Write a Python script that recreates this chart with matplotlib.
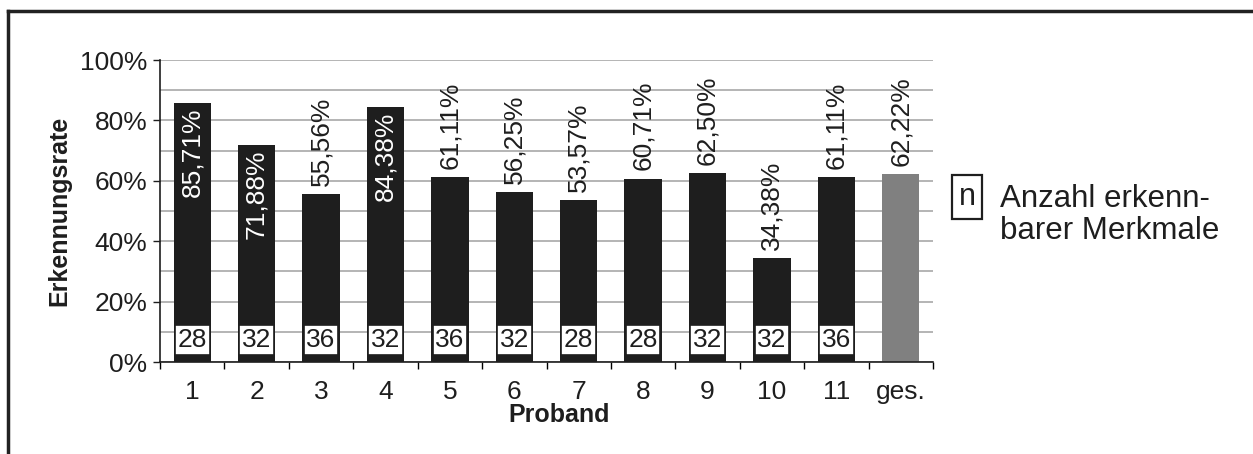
import matplotlib
matplotlib.use('Agg')
import matplotlib.pyplot as plt
from matplotlib.lines import Line2D
import numpy as np

plt.rcParams['font.family'] = ['Liberation Sans', 'DejaVu Sans']

probanden = ['1', '2', '3', '4', '5', '6', '7', '8', '9', '10', '11', 'ges.']
rate = [85.71, 71.88, 55.56, 84.38, 61.11, 56.25, 53.57, 60.71, 62.50, 34.38, 61.11, 62.22]
rate_labels = ['85,71%', '71,88%', '55,56%', '84,38%', '61,11%', '56,25%',
               '53,57%', '60,71%', '62,50%', '34,38%', '61,11%', '62,22%']
merkmale = [28, 32, 36, 32, 36, 32, 28, 28, 32, 32, 36]
label_inside = [True, True, False, True, False, False, False, False, False, False, False, False]

bar_colors = ['#1e1e1e'] * 11 + ['#808080']

fig = plt.figure(figsize=(12.53, 4.54), dpi=100)
ax = fig.add_axes([160 / 1253, 1 - 362 / 454, 773 / 1253, 302 / 454])

x = np.arange(len(probanden))
ax.bar(x, rate, width=0.58, color=bar_colors, zorder=2)

for i, (v, lab) in enumerate(zip(rate, rate_labels)):
    if label_inside[i]:
        ax.text(x[i], v - 1.6, lab, rotation=90, ha='center', va='top',
                color='white', fontsize=19, zorder=3)
    else:
        ax.text(x[i], v + 2.8, lab, rotation=90, ha='center', va='bottom',
                color='#1e1e1e', fontsize=19, zorder=3)

for i, n in enumerate(merkmale):
    ax.text(x[i], 7.3, str(n), ha='center', va='center', fontsize=19,
            color='#1e1e1e', zorder=4,
            bbox=dict(boxstyle='square,pad=0.1', facecolor='white',
                      edgecolor='#1e1e1e', linewidth=1.2))

ax.set_xlim(-0.5, len(probanden) - 0.5)
ax.set_ylim(0, 100)
ax.set_yticks(np.arange(0, 101, 20))
ax.set_yticklabels([f'{t}%' for t in range(0, 101, 20)])
ax.set_yticks(np.arange(10, 100, 20), minor=True)
ax.set_xticks(x)
ax.set_xticklabels(probanden)
ax.set_xticks(np.arange(-0.5, len(probanden), 1.0), minor=True)

ax.tick_params(axis='y', which='major', length=5, width=1, pad=4, labelsize=19, colors='#1e1e1e')
ax.tick_params(axis='y', which='minor', length=0)
ax.tick_params(axis='x', which='major', length=0, pad=13, labelsize=19, colors='#1e1e1e')
ax.tick_params(axis='x', which='minor', length=5, width=1)

ax.grid(axis='y', which='both', color='#a8a8a8', linewidth=1.2, zorder=0)
ax.set_axisbelow(True)
for s in ['top', 'right']:
    ax.spines[s].set_visible(False)
for s in ['left', 'bottom']:
    ax.spines[s].set_color('#1e1e1e')
    ax.spines[s].set_linewidth(1.2)

ax.set_ylabel('Erkennungsrate', fontsize=18, fontweight='bold', color='#1e1e1e', labelpad=6)
ax.set_xlabel('Proband', fontsize=18, fontweight='bold', color='#1e1e1e')
ax.xaxis.set_label_coords((559 - 160) / 773, -(415 - 362) / 302)
ax.xaxis.label.set_va('center')

# legend for the number boxes
fig.text(967 / 1253, 1 - 197 / 454, 'n', ha='center', va='center', fontsize=22,
         color='#1e1e1e',
         bbox=dict(boxstyle='square,pad=0.22', facecolor='white',
                   edgecolor='#1e1e1e', linewidth=1.6))
fig.text(1000 / 1253, 1 - 215 / 454, 'Anzahl erkenn-\nbarer Merkmale', ha='left',
         va='center', fontsize=22.5, color='#1e1e1e', linespacing=1.05)

# outer frame (top and left only)
fig.add_artist(Line2D([8 / 1253, 1], [1 - 11 / 454, 1 - 11 / 454], color='#222222', linewidth=2.5))
fig.add_artist(Line2D([8 / 1253, 8 / 1253], [0, 1 - 11 / 454], color='#222222', linewidth=2.5))

fig.savefig('out.png', dpi=100)
